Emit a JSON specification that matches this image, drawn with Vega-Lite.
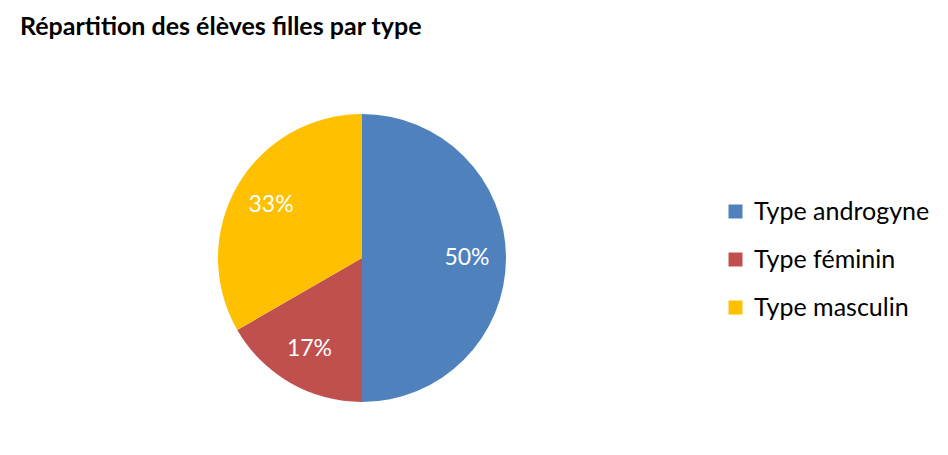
{
  "$schema": "https://vega.github.io/schema/vega-lite/v6.json",
  "width": 724,
  "height": 394,
  "autosize": {"type": "none"},
  "padding": {"left": 0, "top": 61, "right": 224, "bottom": 0},
  "background": "white",
  "title": {
    "text": "Répartition des élèves filles par type",
    "anchor": "start",
    "frame": "group",
    "font": "Lato",
    "fontSize": 25,
    "fontWeight": "bold",
    "color": "#000000",
    "baseline": "alphabetic",
    "dx": 20,
    "offset": 1
  },
  "config": {"view": {"stroke": null}},
  "data": {
    "values": [
      {"type": "Type androgyne", "value": 50, "label": "50%"},
      {"type": "Type féminin", "value": 16.67, "label": "17%"},
      {"type": "Type masculin", "value": 33.33, "label": "33%"}
    ]
  },
  "layer": [
    {
      "mark": {"type": "arc", "outerRadius": 144},
      "encoding": {
        "theta": {"field": "value", "type": "quantitative", "stack": true},
        "color": {
          "field": "type",
          "type": "nominal",
          "scale": {
            "domain": ["Type androgyne", "Type féminin", "Type masculin"],
            "range": ["#4F81BD", "#C0504D", "#FFC000"]
          },
          "legend": {
            "title": null,
            "orient": "none",
            "legendX": 723,
            "legendY": 138,
            "symbolType": "square",
            "symbolSize": 196,
            "symbolStrokeWidth": 0,
            "labelFont": "Lato",
            "labelFontSize": 25,
            "labelLimit": 300,
            "labelColor": "#000000",
            "labelOffset": 6,
            "rowPadding": 22
          }
        }
      }
    },
    {
      "mark": {"type": "text", "radius": 105, "fill": "white", "font": "Lato", "fontSize": 23},
      "encoding": {
        "theta": {"field": "value", "type": "quantitative", "stack": true},
        "detail": {"field": "type", "type": "nominal"},
        "order": {"field": "type", "type": "nominal", "sort": "ascending"},
        "text": {"field": "label", "type": "nominal"}
      }
    }
  ]
}
